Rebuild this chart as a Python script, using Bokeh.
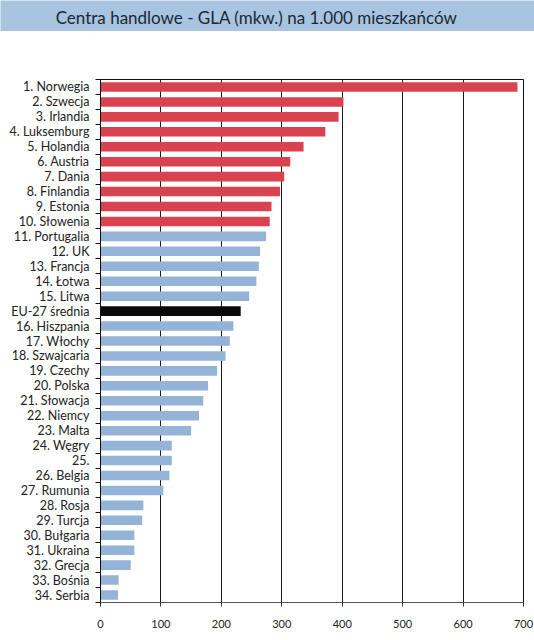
from bokeh.plotting import figure
from bokeh.models import Range1d, FixedTicker, Label
from bokeh.layouts import column
from bokeh.embed import file_html
from bokeh.resources import INLINE

title_text = "Centra handlowe - GLA (mkw.) na 1.000 mieszkańców"

labels = [
    "1. Norwegia", "2. Szwecja", "3. Irlandia", "4. Luksemburg", "5. Holandia",
    "6. Austria", "7. Dania", "8. Finlandia", "9. Estonia", "10. Słowenia",
    "11. Portugalia", "12. UK", "13. Francja", "14. Łotwa", "15. Litwa",
    "EU-27 średnia", "16. Hiszpania", "17. Włochy", "18. Szwajcaria", "19. Czechy",
    "20. Polska", "21. Słowacja", "22. Niemcy", "23. Malta", "24. Węgry",
    "25.", "26. Belgia", "27. Rumunia", "28. Rosja", "29. Turcja",
    "30. Bułgaria", "31. Ukraina", "32. Grecja", "33. Bośnia", "34. Serbia",
]
values = [
    690, 402, 394, 372, 336,
    314, 304, 297, 283, 280,
    274, 264, 262, 258, 246,
    232, 220, 214, 207, 193,
    178, 170, 163, 150, 118,
    118, 114, 104, 71, 69,
    56, 56, 50, 30, 29,
]
x_ticks = [0, 100, 200, 300, 400, 500, 600, 700]

RED = "#d9434f"
BLUE = "#95b3d7"
BLACK = "#0a0a0a"
BAND = "#a9c4de"
FONT = "Lato"

colors = []
for i, lab in enumerate(labels):
    if lab.startswith("EU-27"):
        colors.append(BLACK)
    elif i < 10:
        colors.append(RED)
    else:
        colors.append(BLUE)

n = len(labels)
ypos = list(range(n))

W = 534
BAND_H = 31
LEFT = 100
RIGHT = 11

# ---- title band: a frame covering the whole strip, 1 unit = 1 pixel ----
t = figure(width=W, height=BAND_H, output_backend="svg", toolbar_location=None,
           x_range=Range1d(0, W), y_range=Range1d(0, BAND_H),
           min_border_left=0, min_border_right=0,
           min_border_top=0, min_border_bottom=0, frame_align=False)
t.axis.visible = False
t.grid.visible = False
t.background_fill_color = BAND
t.border_fill_color = BAND
t.outline_line_color = None
t.add_layout(Label(x=256, y=BAND_H - 17, text=title_text, text_align="center",
                   text_baseline="middle", text_font=FONT, text_font_size="17px",
                   text_color="#17283a"))

# ---- main chart ----
p = figure(width=W, height=640 - BAND_H, output_backend="svg", toolbar_location=None,
           x_range=Range1d(0, 700), y_range=Range1d(n - 0.5, -0.5),
           min_border_left=LEFT, min_border_right=RIGHT, min_border_top=48, min_border_bottom=38,
           frame_align=False)

p.hbar(y=ypos, right=values, left=0, height=0.64, fill_color=colors, line_color=None)

p.xaxis.ticker = FixedTicker(ticks=x_ticks)
p.xaxis.major_tick_out = 4
p.xaxis.major_tick_in = 0
p.xaxis.minor_tick_out = 0
p.xaxis.minor_tick_in = 0
p.xaxis.axis_line_color = "#555555"
p.xaxis.major_tick_line_color = "#333333"
p.xaxis.major_label_text_font = FONT
p.xaxis.major_label_text_font_size = "11px"
p.xaxis.major_label_text_color = "#222222"
p.xaxis.major_label_standoff = 13

p.yaxis.ticker = FixedTicker(ticks=ypos, minor_ticks=[i - 0.5 for i in range(n + 1)])
p.yaxis.major_label_overrides = {i: lab for i, lab in enumerate(labels)}
p.yaxis.major_tick_out = 0
p.yaxis.major_tick_in = 0
p.yaxis.minor_tick_out = 5
p.yaxis.minor_tick_in = 0
p.yaxis.minor_tick_line_color = "#111111"
p.yaxis.axis_line_color = "#111111"
p.yaxis.major_label_text_font = FONT
p.yaxis.major_label_text_font_size = "12.5px"
p.yaxis.major_label_text_color = "#222222"
p.yaxis.major_label_standoff = 6

p.xgrid.grid_line_color = "#1a1a1a"
p.xgrid.grid_line_width = 1
p.ygrid.grid_line_color = None
p.outline_line_color = "#111111"
p.outline_line_width = 1

layout = column(t, p, spacing=0)
open("out.html", "w").write(file_html(layout, INLINE))
